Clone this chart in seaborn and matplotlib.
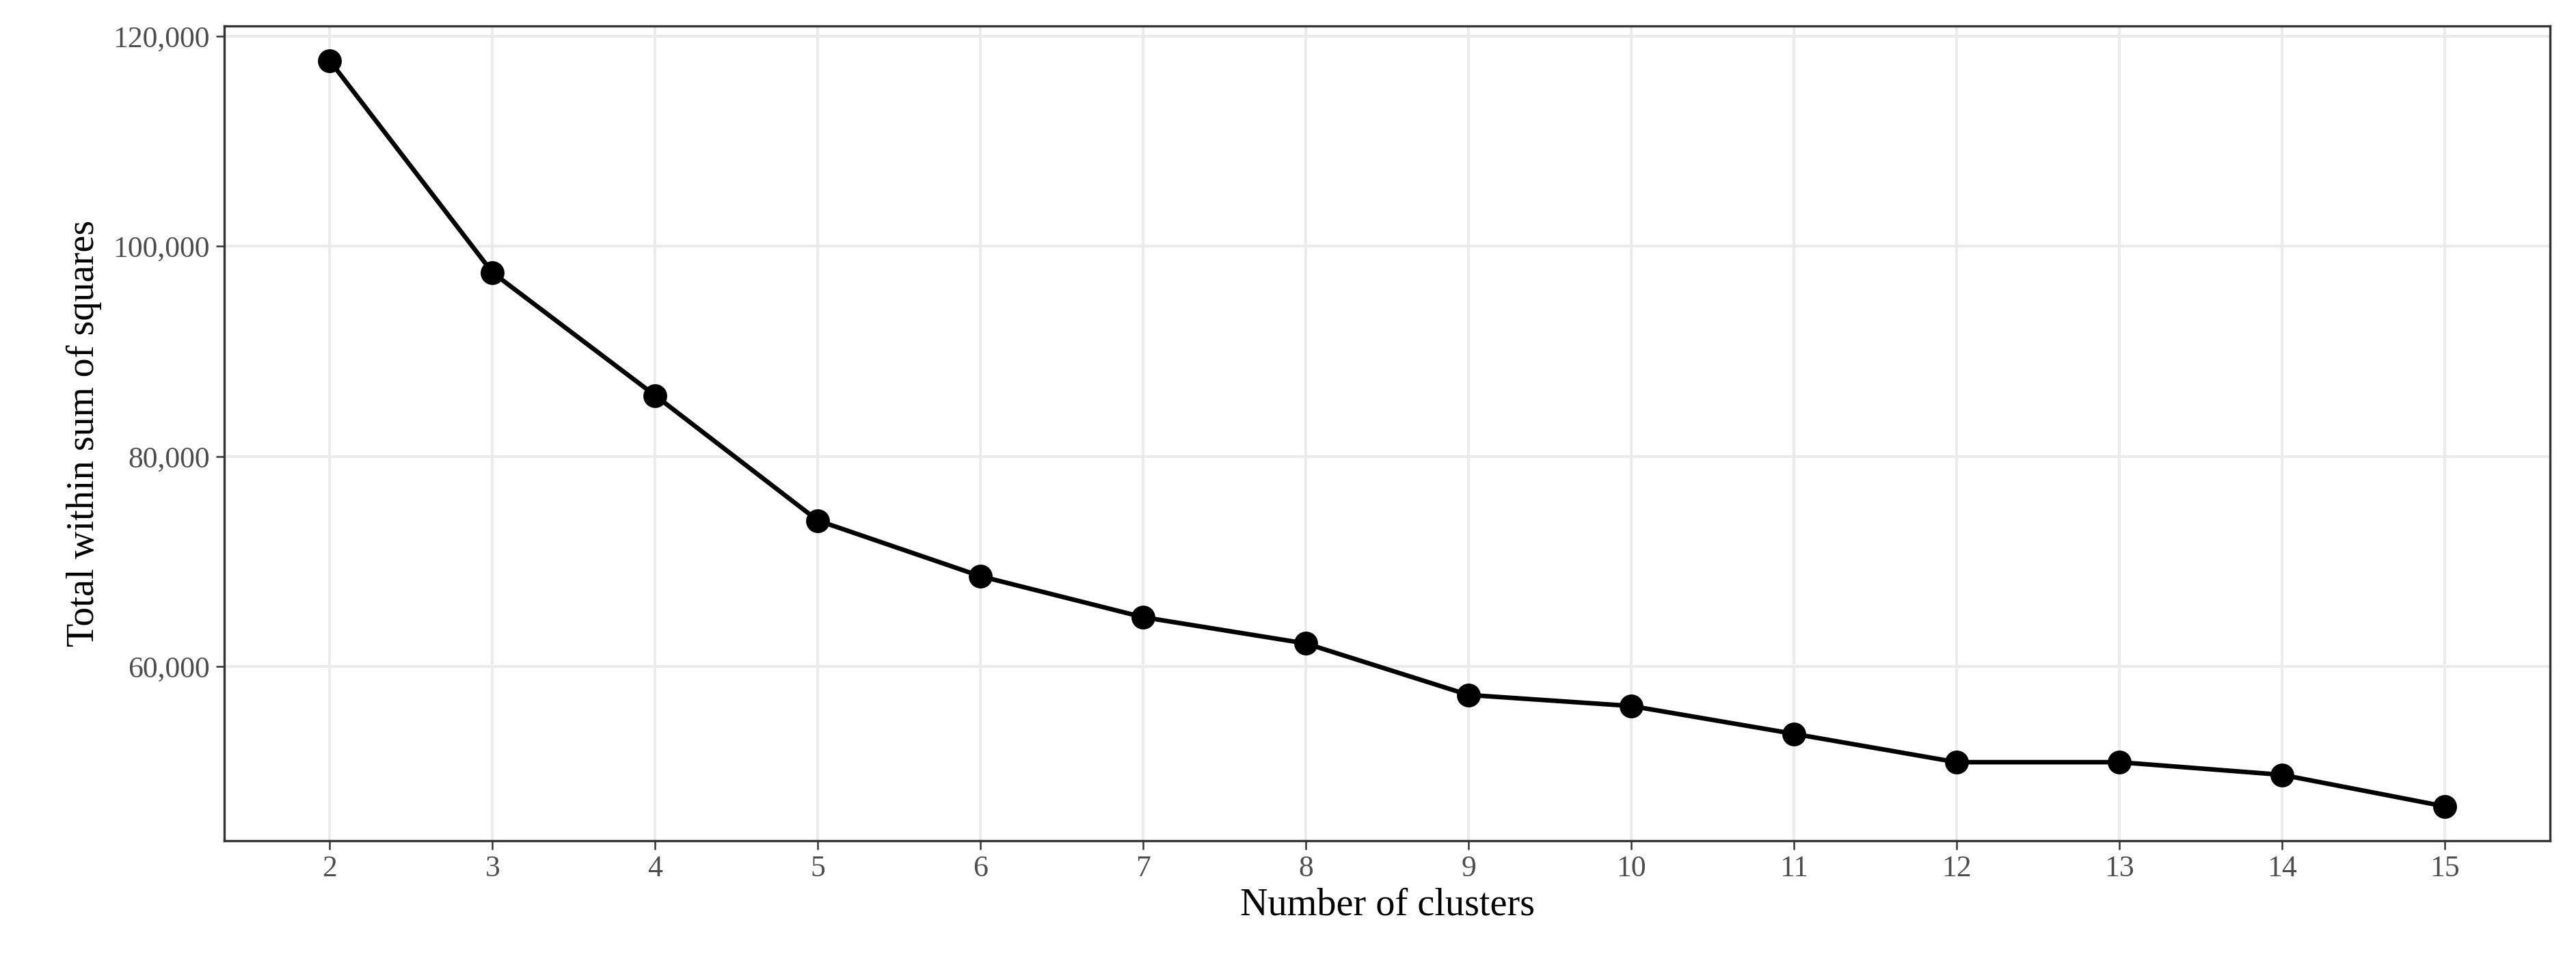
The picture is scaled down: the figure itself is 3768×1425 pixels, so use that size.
import matplotlib
matplotlib.use("Agg")
import matplotlib.pyplot as plt
import seaborn as sns
import pandas as pd
from matplotlib.ticker import FuncFormatter

# valores
clusters = [2, 3, 4, 5, 6, 7, 8, 9, 10, 11, 12, 13, 14, 15]
wss = [117650, 97500, 85800, 73900, 68600, 64700, 62200, 57300,
       56250, 53600, 50900, 50900, 49700, 46700]

df = pd.DataFrame({"k": clusters, "wss": wss})

sns.set_theme(style="whitegrid")
plt.rcParams["font.family"] = ["Liberation Serif", "DejaVu Serif"]

fig = plt.figure(figsize=(12.56, 4.75), dpi=300)
ax = fig.add_axes([0.087, 0.137, 0.903, 0.836])

sns.lineplot(data=df, x="k", y="wss", color="black", linewidth=1.6, ax=ax)
sns.scatterplot(data=df, x="k", y="wss", color="black", s=60, edgecolor="black", ax=ax, zorder=3)

ax.set_xlim(1.35, 15.65)
ax.set_ylim(43440, 120940)
ax.set_xticks(clusters)
ax.set_yticks([60000, 80000, 100000, 120000])
ax.yaxis.set_major_formatter(FuncFormatter(lambda v, p: f"{int(v):,}"))
ax.grid(True, color="#ebebeb", linewidth=1.0)
for s in ax.spines.values():
    s.set_color("#333333")
    s.set_linewidth(0.8)
ax.tick_params(axis="both", labelsize=10.5, colors="#4d4d4d", length=3, width=0.6,
               bottom=True, left=True, color="#333333", pad=2)
ax.set_xlabel("Number of clusters", fontsize=13.5, color="black", labelpad=2)
ax.set_ylabel("Total within sum of squares", fontsize=13.5, color="black", labelpad=4)

fig.savefig("out.png", dpi=300)
